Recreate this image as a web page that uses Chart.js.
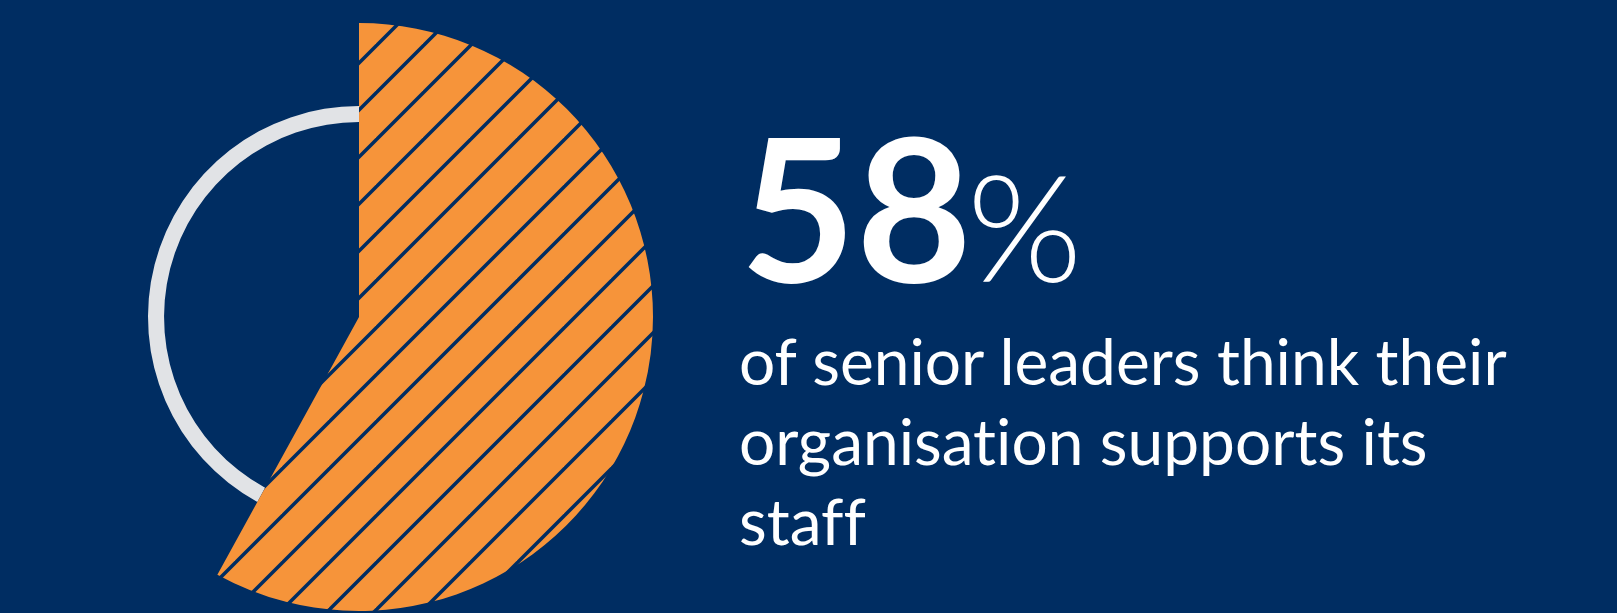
<!DOCTYPE html>
<html lang="en">
<head>
  <meta charset="UTF-8" />
  <title>Senior leaders – organisational support</title>
  <script src="https://cdn.jsdelivr.net/npm/chart.js"></script>
  <style>
    html, body { margin: 0; padding: 0; background: #002d62; overflow: hidden; }
    .stage { position: relative; width: 1617px; height: 613px; }
    .chart-box { position: absolute; left: 0; top: 0; width: 718px; height: 613px; }
    .chart-box canvas { position: absolute; left: 0; top: 0; }
    .stat {
      position: absolute; left: 740px; top: 85px; color: #fff;
      font-family: Lato, "Open Sans", sans-serif; white-space: nowrap; line-height: 1.2;
    }
    .stat .num { font-size: 200px; font-weight: 700; }
    .stat .pct { font-size: 148px; font-weight: 300; margin-left: -5px; }
    .caption {
      position: absolute; left: 739px; top: 321px; color: #fff;
      font-family: Lato, "Open Sans", sans-serif; font-size: 64px; line-height: 80px;
      font-variant-ligatures: none; white-space: nowrap;
    }
  </style>
</head>
<body>
  <div class="stage">
    <div class="chart-box"><canvas id="ring"></canvas></div>
    <div class="chart-box"><canvas id="pie"></canvas></div>
    <div class="stat"><span class="num">58</span><span class="pct">%</span></div>
    <div class="caption">of senior leaders think their<br>organisation supports its<br>staff</div>
  </div>

  <script>
    const labels = ["Supports staff", "Does not"];
    const shares = [58, 42];

    const navy = "#002d62";
    const orange = "#f6943a";
    const grey = "#e1e3e6";

    // diagonal hatch tile for the highlighted slice
    function hatch() {
      const size = 47;
      const c = document.createElement("canvas");
      c.width = size;
      c.height = size;
      const g = c.getContext("2d");
      g.fillStyle = orange;
      g.fillRect(0, 0, size, size);
      g.strokeStyle = navy;
      g.lineWidth = 3.5;
      [-1, 46, 93].forEach(k => {
        g.beginPath();
        g.moveTo(k + 10, -10);
        g.lineTo(k - size - 10, size + 10);
        g.stroke();
      });
      return g.createPattern(c, "repeat");
    }

    const common = {
      responsive: true,
      maintainAspectRatio: false,
      animation: false,
      layout: { padding: { top: 21 } },
      plugins: { legend: { display: false }, tooltip: { enabled: false } }
    };

    // thin ring for the remaining share
    new Chart(document.getElementById("ring"), {
      type: "doughnut",
      data: {
        labels,
        datasets: [{
          data: shares,
          backgroundColor: ["rgba(0,0,0,0)", grey],
          borderWidth: 0
        }]
      },
      options: { ...common, radius: 211, cutout: "92.4%" }
    });

    // full-radius hatched slice on top
    new Chart(document.getElementById("pie"), {
      type: "pie",
      data: {
        labels,
        datasets: [{
          data: shares,
          backgroundColor: [hatch(), "rgba(0,0,0,0)"],
          borderWidth: 0
        }]
      },
      options: { ...common, radius: 294 }
    });
  </script>
</body>
</html>
